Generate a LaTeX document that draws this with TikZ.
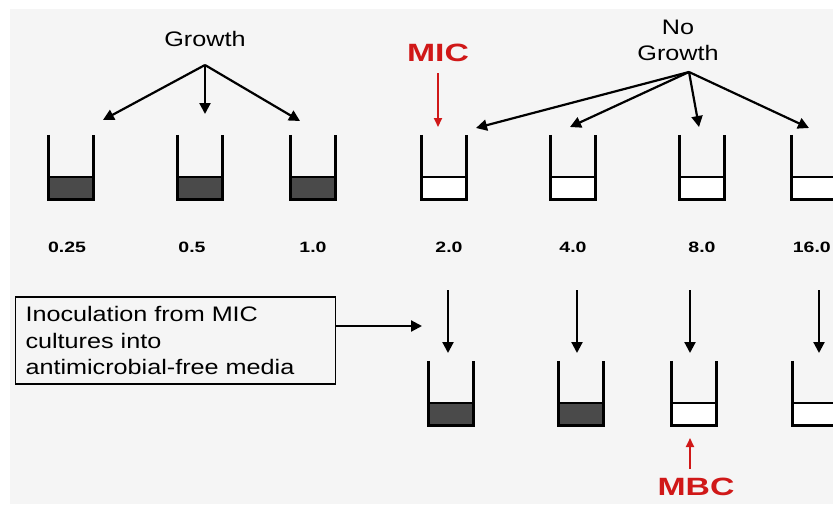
\documentclass[tikz,border=0pt]{standalone}
\usepackage{fontspec}
\setmainfont{Liberation Sans}
\newfontfamily\wf[FakeStretch=1.2]{Liberation Sans}
\newfontfamily\wfn[FakeStretch=1.3]{Liberation Sans}
\newfontfamily\wfr[FakeStretch=1.35]{Liberation Sans}
\usetikzlibrary{arrows.meta}
\definecolor{bg}{HTML}{F5F5F5}
\definecolor{liq}{HTML}{4A4A4A}
\definecolor{micred}{HTML}{D01818}
\newcommand\drawtube[4]{%
  \node[tubebox] (#1) at (#2,#3+32) {};
  \fill[#4] (#2-22.5,#3+42) rectangle (#2+22.5,#3+64);
  \draw[tubeline] (#2-22.5,#3+42) -- (#2+22.5,#3+42);
  \draw[tubeline] (#1.north west) -- (#1.south west) -- (#1.south east) -- (#1.north east);
}
\begin{document}
\begin{tikzpicture}[x=1pt,y=-1pt,
  tubebox/.style={minimum width=45pt,minimum height=64pt,inner sep=0pt},
  tubeline/.style={line width=2.8pt,line join=miter},
  arr/.style={line width=2.2pt,-{Triangle[length=11pt,width=11pt]}},
  redarr/.style={draw=micred,line width=2pt,-{Triangle[length=9pt,width=8pt]},color=micred},
  lbl/.style={font=\wf\fontsize{21}{26}\selectfont,inner sep=0pt,align=center},
  num/.style={font=\wfn\bfseries\fontsize{15}{18}\selectfont,inner sep=0pt},
  redlbl/.style={font=\wfr\bfseries\fontsize{25}{28}\selectfont,inner sep=0pt,text=micred}]
\useasboundingbox (0,0) rectangle (833,504);
\clip (0,0) rectangle (833,504);
\fill[white] (0,0) rectangle (833,504);
\fill[bg] (10,9) rectangle (833,504);

% top row tubes
\drawtube{t1}{71}{135}{liq}
\drawtube{t2}{200}{135}{liq}
\drawtube{t3}{313}{135}{liq}
\drawtube{t4}{444}{135}{white}
\drawtube{t5}{573}{135}{white}
\drawtube{t6}{702}{135}{white}
\drawtube{t7}{814}{135}{white}

% concentrations
\node[num] (c1) at (67,247) {0.25};
\node[num] (c2) at (192,247) {0.5};
\node[num] (c3) at (313,247) {1.0};
\node[num] (c4) at (449,247) {2.0};
\node[num] (c5) at (573,247) {4.0};
\node[num] (c6) at (702,247) {8.0};
\node[num,anchor=east] (c7) at (831,247) {16.0};

% Growth
\node[lbl] (growth) at (205,39) {Growth};
\coordinate (gsrc) at (205,65);
\coordinate (g1) at (103,120);
\coordinate (g2) at (205,114);
\coordinate (g3) at (300,121);
\draw[arr] (gsrc) -- (g1);
\draw[arr] (gsrc) -- (g2);
\draw[arr] (gsrc) -- (g3);

% No Growth
\node[lbl] (nogrowth) at (678,40) {No\\Growth};
\coordinate (nsrc) at (689,72);
\coordinate (n1) at (476,128);
\coordinate (n2) at (570,127);
\coordinate (n3) at (699,127);
\coordinate (n4) at (809,128);
\draw[arr] (nsrc) -- (n1);
\draw[arr] (nsrc) -- (n2);
\draw[arr] (nsrc) -- (n3);
\draw[arr] (nsrc) -- (n4);

% MIC
\node[redlbl] (mic) at (438,53) {MIC};
\coordinate (micsrc) at (438,73);
\coordinate (mictip) at (438,127);
\draw[redarr] (micsrc) -- (mictip);

% box
\node[draw,line width=1.8pt,font=\wf\fontsize{21}{26.5}\selectfont,align=left,
  text width=300pt,minimum height=87pt,inner xsep=10pt,inner ysep=4pt,fill=bg] (box) at (175.5,340.5)
  {Inoculation from MIC\\cultures into\\antimicrobial-free media};
\coordinate (boxtip) at (422,326);
\draw[arr] (box.east |- boxtip) -- (boxtip);

% bottom row
\coordinate (b1s) at (448,290);
\coordinate (b2s) at (577,290);
\coordinate (b3s) at (690,290);
\coordinate (b4s) at (819,290);
\coordinate (b1e) at (448,353);
\coordinate (b2e) at (577,353);
\coordinate (b3e) at (690,353);
\coordinate (b4e) at (819,353);
\draw[arr] (b1s) -- (b1e);
\draw[arr] (b2s) -- (b2e);
\draw[arr] (b3s) -- (b3e);
\draw[arr] (b4s) -- (b4e);
\drawtube{u1}{451}{361}{liq}
\drawtube{u2}{581}{361}{liq}
\drawtube{u3}{694}{361}{white}
\drawtube{u4}{815}{361}{white}

% MBC
\coordinate (mbcsrc) at (690,469);
\coordinate (mbctip) at (690,438);
\draw[redarr] (mbcsrc) -- (mbctip);
\node[redlbl,anchor=south] (mbc) at (696,496) {MBC};
\end{tikzpicture}
\end{document}
